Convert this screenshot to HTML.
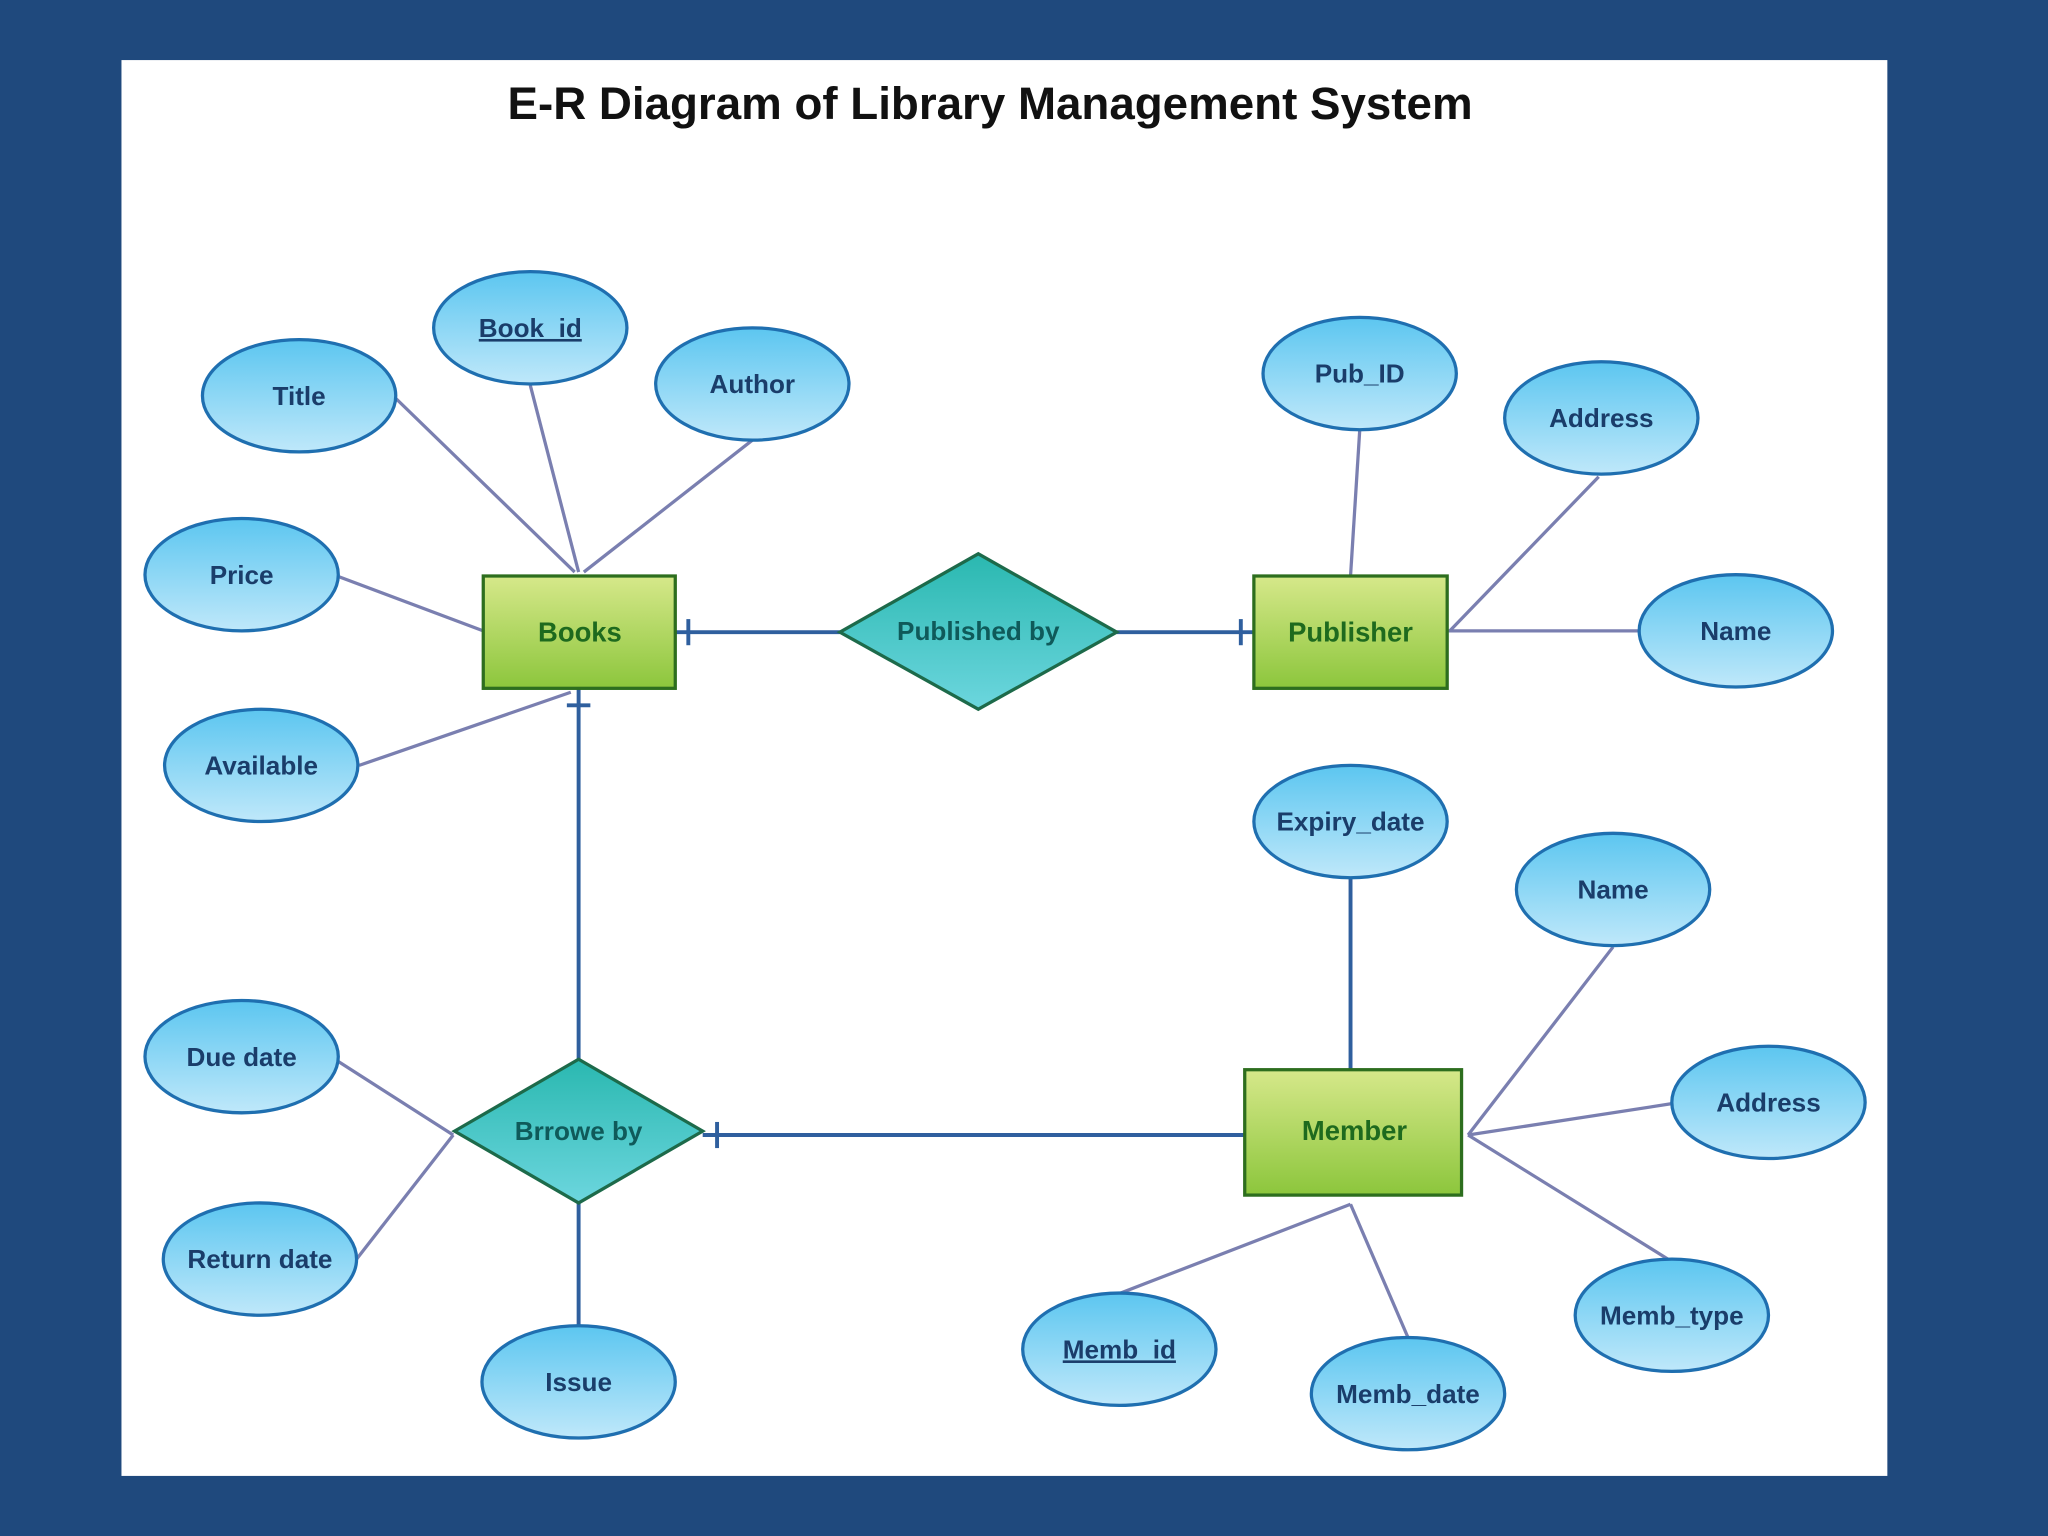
<!DOCTYPE html>
<html><head><meta charset="utf-8"><style>
html,body{margin:0;padding:0;background:#1f497d;}
svg{display:block;}
text{font-family:"Liberation Sans",sans-serif;font-weight:bold;}
</style></head><body>
<svg width="2048" height="1536" viewBox="0 0 1568 1176" xmlns="http://www.w3.org/2000/svg">
<defs>
<linearGradient id="eg" x1="0" y1="0" x2="0" y2="1"><stop offset="0" stop-color="#5cc6f0"/><stop offset="1" stop-color="#bfe8fa"/></linearGradient>
<linearGradient id="rg" x1="0" y1="0" x2="0" y2="1"><stop offset="0" stop-color="#d6e88a"/><stop offset="1" stop-color="#8cc63c"/></linearGradient>
<linearGradient id="dg" x1="0" y1="0" x2="0" y2="1"><stop offset="0" stop-color="#2ab8b0"/><stop offset="1" stop-color="#6cd6de"/></linearGradient>
</defs>
<rect width="1568" height="1176" fill="#1f497d"/>
<rect x="93" y="46" width="1352" height="1084" fill="#fff"/>
<text x="758" y="91" font-size="35" text-anchor="middle" fill="#111">E-R Diagram of Library Management System</text>

<g stroke="#7a7fb0" stroke-width="2.5" fill="none">
<line x1="303" y1="305" x2="440" y2="438"/>
<line x1="406" y1="295" x2="443" y2="438"/>
<line x1="576" y1="337" x2="447" y2="438"/>
<line x1="258" y1="441" x2="370" y2="483"/>
<line x1="275" y1="586" x2="437" y2="530"/>
<line x1="1041" y1="330" x2="1034" y2="441"/>
<line x1="1224" y1="365" x2="1110" y2="483"/>
<line x1="1255" y1="483" x2="1108" y2="483"/>
<line x1="1235" y1="725" x2="1124" y2="869"/>
<line x1="1280" y1="845" x2="1124" y2="869"/>
<line x1="1277" y1="964" x2="1124" y2="869"/>
<line x1="1034" y1="922" x2="858" y2="990"/>
<line x1="1034" y1="922" x2="1078" y2="1024"/>
<line x1="258" y1="812" x2="347" y2="869"/>
<line x1="273" y1="964" x2="347" y2="869"/>
</g>
<g stroke="#2f5f9e" stroke-width="3" fill="none">
<line x1="517" y1="484" x2="643" y2="484"/><line x1="527" y1="474" x2="527" y2="494"/>
<line x1="855" y1="484" x2="960" y2="484"/><line x1="950" y1="474" x2="950" y2="494"/>
<line x1="443" y1="527" x2="443" y2="811"/><line x1="434" y1="540" x2="452" y2="540"/>
<line x1="538" y1="869" x2="953" y2="869"/><line x1="549" y1="859" x2="549" y2="879"/>
<line x1="1034" y1="673" x2="1034" y2="819"/>
<line x1="443" y1="921" x2="443" y2="1015"/>
</g>

<g stroke="#1f6fb0" stroke-width="2.5" fill="url(#eg)">
<ellipse cx="229" cy="303" rx="74" ry="43"/>
<ellipse cx="406" cy="251" rx="74" ry="43"/>
<ellipse cx="576" cy="294" rx="74" ry="43"/>
<ellipse cx="185" cy="440" rx="74" ry="43"/>
<ellipse cx="200" cy="586" rx="74" ry="43"/>
<ellipse cx="1041" cy="286" rx="74" ry="43"/>
<ellipse cx="1226" cy="320" rx="74" ry="43"/>
<ellipse cx="1329" cy="483" rx="74" ry="43"/>
<ellipse cx="1034" cy="629" rx="74" ry="43"/>
<ellipse cx="1235" cy="681" rx="74" ry="43"/>
<ellipse cx="1354" cy="844" rx="74" ry="43"/>
<ellipse cx="1280" cy="1007" rx="74" ry="43"/>
<ellipse cx="1078" cy="1067" rx="74" ry="43"/>
<ellipse cx="857" cy="1033" rx="74" ry="43"/>
<ellipse cx="185" cy="809" rx="74" ry="43"/>
<ellipse cx="199" cy="964" rx="74" ry="43"/>
<ellipse cx="443" cy="1058" rx="74" ry="43"/>
</g>
<g stroke="#2d6e1e" stroke-width="2.5" fill="url(#rg)">
<rect x="370" y="441" width="147" height="86"/>
<rect x="960" y="441" width="148" height="86"/>
<rect x="953" y="819" width="166" height="96"/>
</g>
<g stroke="#1d6a4a" stroke-width="2.5" fill="url(#dg)">
<polygon points="643,484 749,424 855,484 749,543"/>
<polygon points="348,866 443,811 538,866 443,921"/>
</g>

<g font-size="20" fill="#1a3d6a" text-anchor="middle">
<text x="229" y="310">Title</text>
<text x="406" y="258" text-decoration="underline">Book_id</text>
<text x="576" y="301">Author</text>
<text x="185" y="447">Price</text>
<text x="200" y="593">Available</text>
<text x="1041" y="293">Pub_ID</text>
<text x="1226" y="327">Address</text>
<text x="1329" y="490">Name</text>
<text x="1034" y="636">Expiry_date</text>
<text x="1235" y="688">Name</text>
<text x="1354" y="851">Address</text>
<text x="1280" y="1014">Memb_type</text>
<text x="1078" y="1074">Memb_date</text>
<text x="857" y="1040" text-decoration="underline">Memb_id</text>
<text x="185" y="816">Due date</text>
<text x="199" y="971">Return date</text>
<text x="443" y="1065">Issue</text>
</g>
<g font-size="21" fill="#1e6a1e" text-anchor="middle">
<text x="444" y="491">Books</text>
<text x="1034" y="491">Publisher</text>
<text x="1037" y="873">Member</text>
</g>
<g font-size="20" fill="#0f5a5a" text-anchor="middle">
<text x="749" y="490">Published by</text>
<text x="443" y="873">Brrowe by</text>
</g>
</svg>
</body></html>
